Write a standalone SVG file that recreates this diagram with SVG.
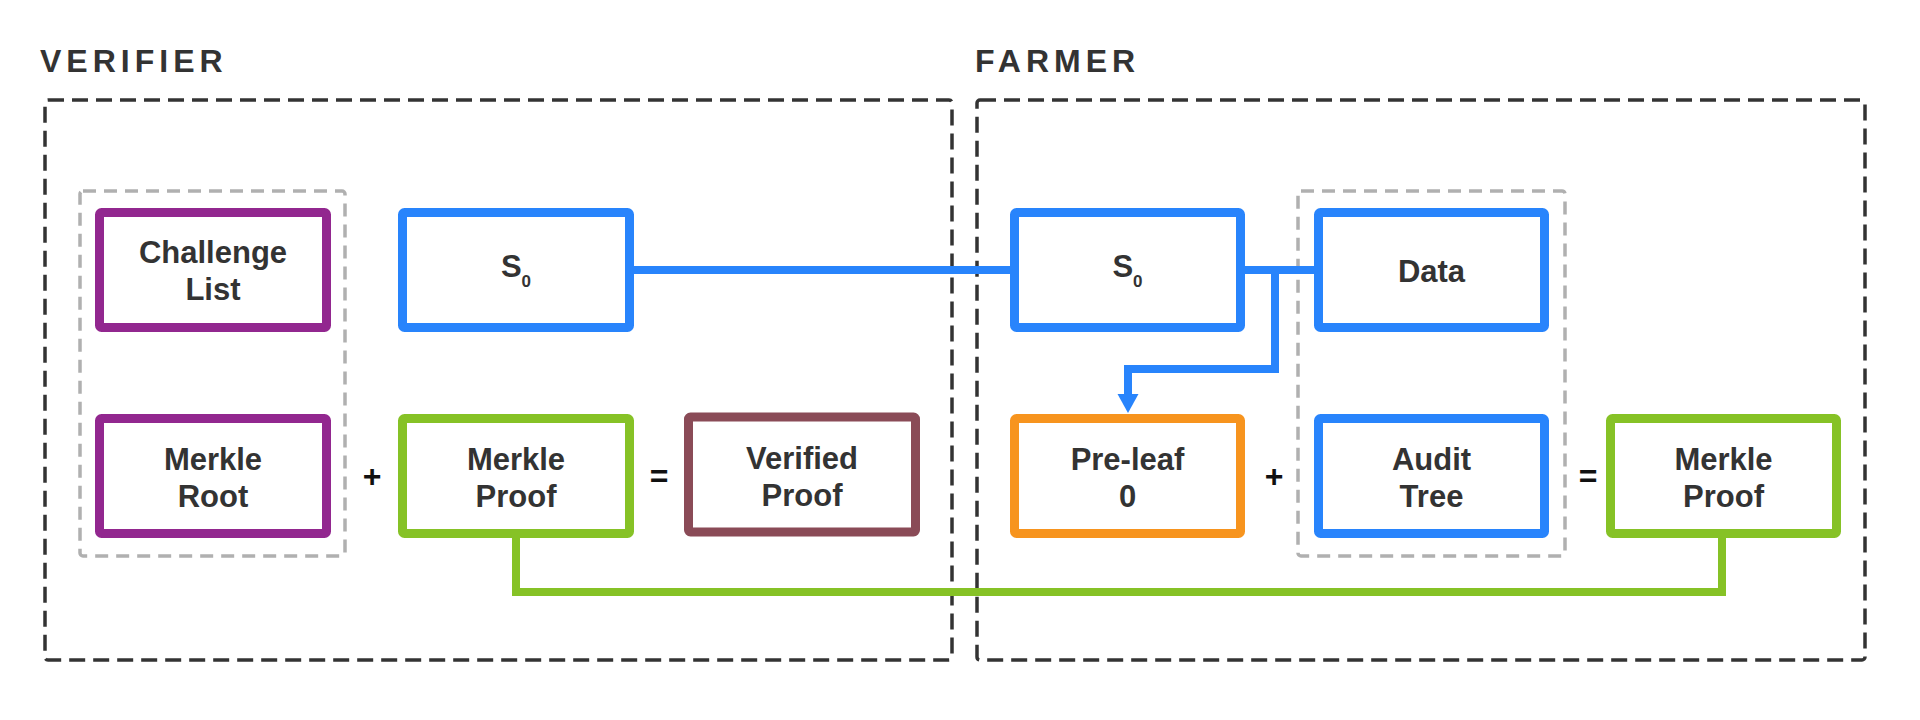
<svg xmlns="http://www.w3.org/2000/svg" width="1920" height="720" viewBox="0 0 1920 720">
<style>
.title{font-family:"Liberation Sans",Arial,sans-serif;font-weight:bold;font-size:32px;fill:#333;letter-spacing:5px}
.outer{fill:none;stroke:#333;stroke-width:3.5;stroke-dasharray:16 8}
.grp{fill:none;stroke:#b0b0b0;stroke-width:3.5;stroke-dasharray:13 8}
.box{fill:#fff;stroke-width:9}
.lbl{font-family:"Liberation Sans",Arial,sans-serif;font-weight:bold;font-size:31px;fill:#333;text-anchor:middle}
.op{font-family:"Liberation Sans",Arial,sans-serif;font-weight:bold;font-size:32px;fill:#111;text-anchor:middle}
.purple{stroke:#92278f}
.blue{stroke:#2884fc}
.green{stroke:#86c226}
.orange{stroke:#f7941e}
.mauve{stroke:#8a4b57}
.conn{fill:none;stroke-width:8;stroke-linejoin:miter}
</style>
<rect width="1920" height="720" fill="#fff"/>

<g id="verifier-frame">
<text class="title" x="40" y="72">VERIFIER</text>
<rect class="outer" x="45" y="100" width="907" height="560" rx="3"/>
<rect class="grp" x="80" y="191" width="265" height="365" rx="3"/>
</g>
<g id="farmer-frame">
<text class="title" x="975" y="72">FARMER</text>
<rect class="outer" x="977" y="100" width="888" height="560" rx="3"/>
<rect class="grp" x="1298" y="191" width="267" height="365" rx="3"/>
</g>

<g id="connectors">
<path class="conn blue" d="M634 270 H1010"/>
<path class="conn blue" d="M1245 270 H1314"/>
<path class="conn blue" d="M1275 270 V369 H1128 V397"/>
<polygon points="1117.5,394 1138.5,394 1128,413" fill="#2884fc"/>
<path class="conn green" d="M516 538 V592 H1722 V538"/>
</g>

<g id="challenge-list">
<rect class="box purple" x="99.5" y="212.5" width="227" height="115" rx="2"/>
<text class="lbl" x="213" y="263">Challenge</text>
<text class="lbl" x="213" y="300">List</text>
</g>
<g id="verifier-s0">
<rect class="box blue" x="402.5" y="212.5" width="227" height="115" rx="2"/>
<text class="lbl" x="516" y="277">S<tspan font-size="17" dy="10">0</tspan></text>
</g>
<g id="merkle-root">
<rect class="box purple" x="99.5" y="418.5" width="227" height="115" rx="2"/>
<text class="lbl" x="213" y="470">Merkle</text>
<text class="lbl" x="213" y="507">Root</text>
</g>
<text class="op" x="372" y="487">+</text>
<g id="verifier-merkle-proof">
<rect class="box green" x="402.5" y="418.5" width="227" height="115" rx="2"/>
<text class="lbl" x="516" y="470">Merkle</text>
<text class="lbl" x="516" y="507">Proof</text>
</g>
<text class="op" x="659" y="487">=</text>
<g id="verified-proof">
<rect class="box mauve" x="688.5" y="417" width="227" height="115" rx="2"/>
<text class="lbl" x="802" y="469">Verified</text>
<text class="lbl" x="802" y="506">Proof</text>
</g>

<g id="farmer-s0">
<rect class="box blue" x="1014.5" y="212.5" width="226" height="115" rx="2"/>
<text class="lbl" x="1127.5" y="277">S<tspan font-size="17" dy="10">0</tspan></text>
</g>
<g id="data">
<rect class="box blue" x="1318.5" y="212.5" width="226" height="115" rx="2"/>
<text class="lbl" x="1431.5" y="282">Data</text>
</g>
<g id="pre-leaf">
<rect class="box orange" x="1014.5" y="418.5" width="226" height="115" rx="2"/>
<text class="lbl" x="1127.5" y="470">Pre-leaf</text>
<text class="lbl" x="1127.5" y="507">0</text>
</g>
<text class="op" x="1274" y="487">+</text>
<g id="audit-tree">
<rect class="box blue" x="1318.5" y="418.5" width="226" height="115" rx="2"/>
<text class="lbl" x="1431.5" y="470">Audit</text>
<text class="lbl" x="1431.5" y="507">Tree</text>
</g>
<text class="op" x="1588" y="487">=</text>
<g id="farmer-merkle-proof">
<rect class="box green" x="1610.5" y="418.5" width="226" height="115" rx="2"/>
<text class="lbl" x="1723.5" y="470">Merkle</text>
<text class="lbl" x="1723.5" y="507">Proof</text>
</g>
</svg>
